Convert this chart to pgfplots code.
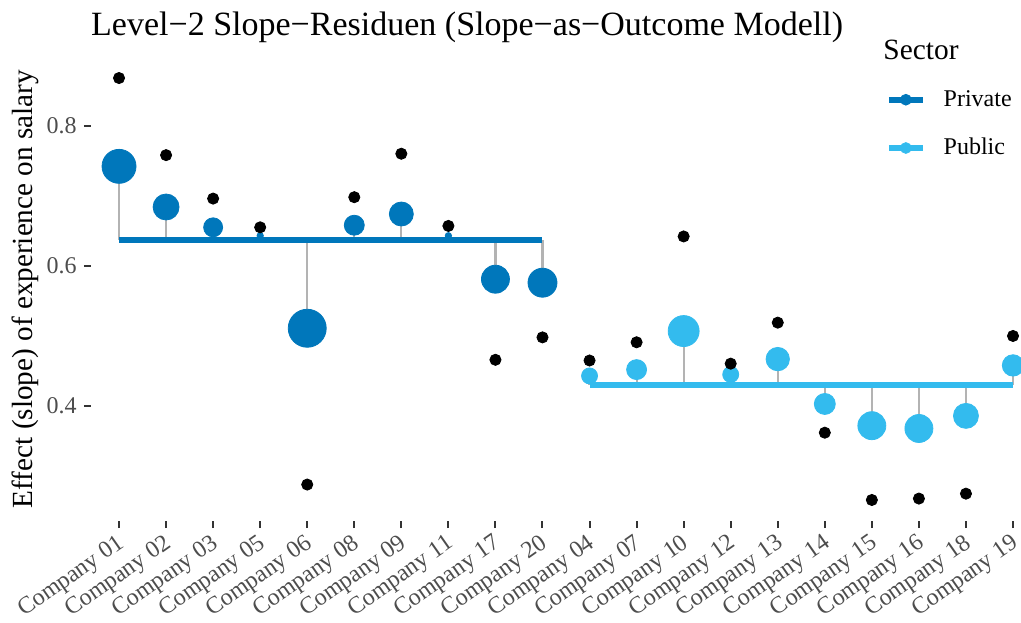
\documentclass[border=0pt]{standalone}
\usepackage{pgfplots}
\pgfplotsset{compat=1.18}
\usepackage{pgfplotstable}
\usepackage{fontspec}
\setmainfont{Liberation Serif}

\definecolor{privc}{HTML}{0077BB}
\definecolor{pubc}{HTML}{33BBEE}
\definecolor{segc}{HTML}{B3B3B3}
\definecolor{tickc}{HTML}{4D4D4D}
\definecolor{tickmark}{HTML}{333333}

% x = position, mu = sector mean slope, est = shrunken slope, ols = raw slope, r = marker radius (pt)
\pgfplotstableread{
x mu est ols r
0 0.637 0.742 0.868 8.5
1 0.637 0.684 0.758 6.5
2 0.637 0.655 0.696 4.75
3 0.637 0.643 0.655 1.6
4 0.637 0.511 0.288 9.5
5 0.637 0.658 0.698 5
6 0.637 0.674 0.760 6
7 0.637 0.643 0.657 1.6
8 0.637 0.581 0.466 7
9 0.637 0.576 0.498 7.25
}\priv

\pgfplotstableread{
x mu est ols r
10 0.430 0.443 0.465 4
11 0.430 0.452 0.491 5
12 0.430 0.507 0.642 7.75
13 0.430 0.445 0.4605 4
14 0.430 0.467 0.519 5.85
15 0.430 0.403 0.362 5.25
16 0.430 0.372 0.266 7
17 0.430 0.368 0.268 7
18 0.430 0.386 0.275 6.25
19 0.430 0.458 0.500 5.35
}\publ

\begin{document}
\begin{tikzpicture}
\begin{axis}[
  scale only axis,
  width=465.1pt, height=232pt,
  xmin=-0.6, xmax=19.17,
  ymin=0.236, ymax=0.898,
  axis x line*=bottom, axis y line*=left,
  axis line style={draw=none},
  tick align=outside,
  major tick length=3.5pt,
  tick style={draw=tickmark, line width=1pt},
  xtick={0,...,19},
  xticklabels={Company 01,Company 02,Company 03,Company 05,Company 06,Company 08,Company 09,Company 11,Company 17,Company 20,Company 04,Company 07,Company 10,Company 12,Company 13,Company 14,Company 15,Company 16,Company 18,Company 19},
  xticklabel style={rotate=35, anchor=north east, inner sep=1pt, xshift=-1.5pt, text=tickc, font=\fontsize{12}{14}\selectfont},
  ytick={0.4,0.6,0.8},
  yticklabels={0.4,0.6,0.8},
  yticklabel style={text=tickc, font=\fontsize{12}{14}\selectfont},
  /pgf/number format/assume math mode=true,
  legend style={draw=none, fill=none, at={(0.8545,0.8555)}, anchor=west,
    inner sep=0pt, row sep=14.5pt, font=\fontsize{12}{14}\selectfont,
    /tikz/every odd column/.append style={column sep=9pt},
    nodes={inner sep=0pt}},
  legend cell align=left,
  clip mode=individual,
]
% stems from the sector mean to each company slope
\addplot[forget plot, draw=segc, line width=1.1pt, no marks,
  quiver={u=0, v=\thisrow{est}-\thisrow{mu}}] table[x=x, y=mu] {\priv};
\addplot[forget plot, draw=segc, line width=1.1pt, no marks,
  quiver={u=0, v=\thisrow{est}-\thisrow{mu}}] table[x=x, y=mu] {\publ};

% sector means
\addplot[forget plot, privc, line width=2.8pt, line cap=butt, no marks] coordinates {(0,0.637) (9,0.637)};
\addplot[forget plot, pubc, line width=2.8pt, line cap=butt, no marks] coordinates {(10,0.430) (19,0.430)};

% company slopes, sized by distance from the mean
\addplot[forget plot, scatter, only marks, mark=*, color=privc,
  scatter/use mapped color={draw=privc, fill=privc},
  visualization depends on={\thisrow{r} \as \rad},
  scatter/@pre marker code/.append style={/tikz/mark size=\rad pt}]
  table[x=x, y=est, meta=r] {\priv};
\addplot[forget plot, scatter, only marks, mark=*, color=pubc,
  scatter/use mapped color={draw=pubc, fill=pubc},
  visualization depends on={\thisrow{r} \as \rad},
  scatter/@pre marker code/.append style={/tikz/mark size=\rad pt}]
  table[x=x, y=est, meta=r] {\publ};

% raw per-company slopes
\addplot[forget plot, only marks, mark=*, mark size=2.8pt, black] table[x=x, y=ols] {\priv};
\addplot[forget plot, only marks, mark=*, mark size=2.8pt, black] table[x=x, y=ols] {\publ};

\addlegendimage{color=privc, legend image code/.code={
  \draw[line width=2.8pt] (0pt,0pt) -- (17pt,0pt);
  \fill (8.5pt,0pt) circle (2.7pt);}}
\addlegendentry{Private}
\addlegendimage{color=pubc, legend image code/.code={
  \draw[line width=2.8pt] (0pt,0pt) -- (17pt,0pt);
  \fill (8.5pt,0pt) circle (2.7pt);}}
\addlegendentry{Public}

\node[anchor=base west, inner sep=0pt, font=\fontsize{17}{20}\selectfont]
  at (axis description cs:0,1.0474) {Level−2 Slope−Residuen (Slope−as−Outcome Modell)};
\node[anchor=base west, inner sep=0pt, font=\fontsize{14.7}{17}\selectfont]
  at (axis description cs:0.8517,0.9946) {Sector};
\node[anchor=base, rotate=90, inner sep=0pt, font=\fontsize{14.6}{17}\selectfont]
  at (axis description cs:-0.0632,0.5) {Effect (slope) of experience on salary};
\end{axis}
\pgfresetboundingbox
\path[use as bounding box] (-45.4pt,-50.5pt) rectangle (465.1pt,260.5pt);
\end{tikzpicture}
\end{document}
